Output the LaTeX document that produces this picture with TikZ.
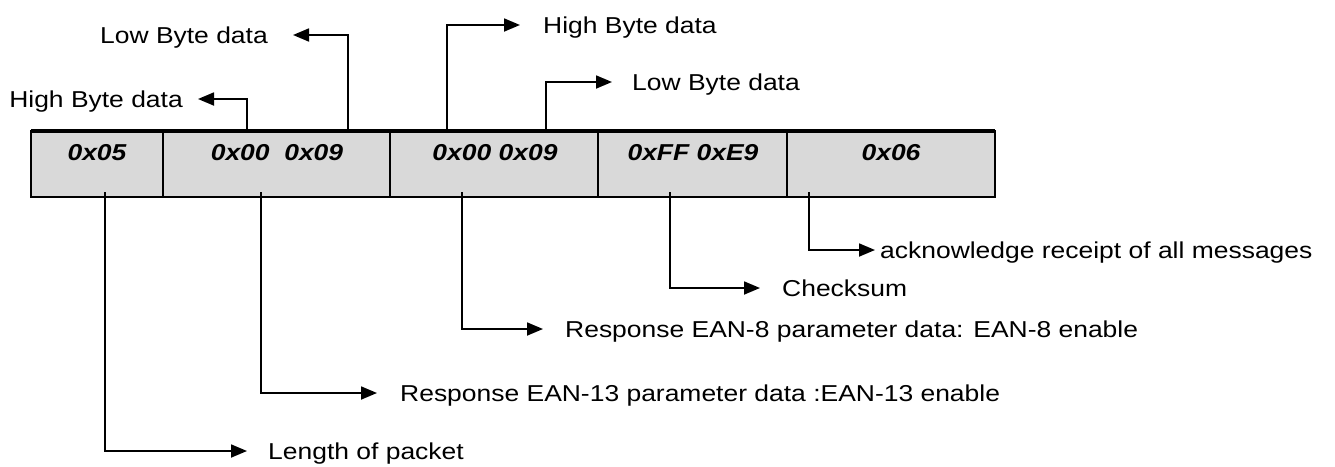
\documentclass[tikz,border=0pt]{standalone}
\usepackage{fontspec}
\setmainfont{Liberation Sans}[FakeStretch=1.15]
\usetikzlibrary{arrows.meta}
\definecolor{cellgray}{HTML}{D9D9D9}
\begin{document}
\begin{tikzpicture}[x=1pt,y=-1pt,
  cell/.style={draw=black, line width=2.2pt, fill=cellgray, rectangle, inner sep=0pt, outer sep=0pt, minimum height=66pt, anchor=north west},
  hex/.style={font=\fontsize{23}{27}\selectfont\bfseries\itshape, inner sep=0pt},
  lbl/.style={font=\fontsize{23}{27}\selectfont, inner sep=0pt, text height=16.5pt, text depth=0pt},
  conn/.style={line width=1.8pt, -{Triangle[length=16pt,width=13pt]}},
]
\useasboundingbox (0,0) rectangle (1335,466);
% cells
\node[cell, minimum width=132pt] (c1) at (31,131) {};
\node[cell, minimum width=227pt] (c2) at (163,131) {};
\node[cell, minimum width=208pt] (c3) at (390,131) {};
\node[cell, minimum width=189pt] (c4) at (598,131) {};
\node[cell, minimum width=208pt] (c5) at (787,131) {};
\draw[line width=4.5pt] (c1.north west) -- (c5.north east);
% hex values
\node[hex] (h1) at (97,153) {0x05};
\node[hex] (h2) at (277,153) {0x00~~0x09};
\node[hex] (h3) at (495,153) {0x00 0x09};
\node[hex] (h4) at (693,153) {0xFF 0xE9};
\node[hex] (h5) at (891,153) {0x06};
% labels
\node[lbl, anchor=west] (len) at (268,451) {Length of packet};
\node[lbl, anchor=west] (e13) at (400,393) {Response EAN-13 parameter data :EAN-13 enable};
\node[lbl, anchor=west] (e8) at (565,329) {Response EAN-8 parameter data: EAN-8 enable};
\node[lbl, anchor=west] (chk) at (782,288) {Checksum};
\node[lbl, anchor=west] (ack) at (880,250) {acknowledge receipt of all messages};
\node[lbl, anchor=east] (hb1) at (183,99) {High Byte data};
\node[lbl, anchor=east] (lb1) at (268,35) {Low Byte data};
\node[lbl, anchor=west] (hb2) at (543,25) {High Byte data};
\node[lbl, anchor=west] (lb2) at (632,82) {Low Byte data};
% connector start points
\coordinate (s1) at (105,192);
\coordinate (s2) at (261,192);
\coordinate (s3) at (462,192);
\coordinate (s4) at (670,192);
\coordinate (s5) at (809,192);
\coordinate (t1) at (247,131);
\coordinate (t2) at (348,131);
\coordinate (t3) at (447,131);
\coordinate (t4) at (546,131);
% connectors
\draw[conn, shorten >=21pt] (s1) |- (len.west);
\draw[conn, shorten >=23pt] (s2) |- (e13.west);
\draw[conn, shorten >=22pt] (s3) |- (e8.west);
\draw[conn, shorten >=22pt] (s4) |- (chk.west);
\draw[conn, shorten >=5pt] (s5) |- (ack.west);
\draw[conn, shorten >=15pt] (t1) |- (hb1.east);
\draw[conn, shorten >=25pt] (t2) |- (lb1.east);
\draw[conn, shorten >=23pt] (t3) |- (hb2.west);
\draw[conn, shorten >=20pt] (t4) |- (lb2.west);
\end{tikzpicture}
\end{document}
